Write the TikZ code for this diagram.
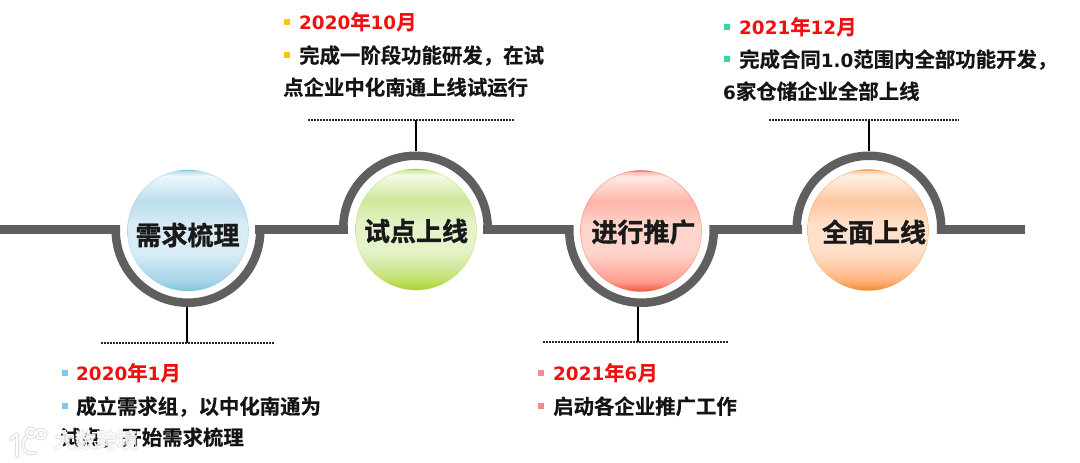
\documentclass[tikz,border=0pt]{standalone}
\usepackage{fontspec}
\setmainfont{Noto Sans CJK SC}
\newfontfamily\cjkheavy[FakeBold=1.2]{Noto Sans CJK SC Bold}
\newfontfamily\cjkbody[FakeBold=0.5]{Noto Sans CJK SC Bold}
\newfontfamily\cjkhalo[FakeBold=5]{Noto Sans CJK SC Bold}
\newfontfamily\cjkmark[FakeBold=1.5]{Noto Sans CJK SC Bold}
\newfontfamily\dgfont[Scale=0.9]{DejaVu Sans Bold}
\newcommand{\dg}[1]{{\dgfont #1}}
\definecolor{bandgray}{HTML}{5F5F5F}
\definecolor{datered}{HTML}{F01010}
\definecolor{bulblue}{HTML}{7FC6F2}
\definecolor{bulyellow}{HTML}{FFC400}
\definecolor{bulpink}{HTML}{EC8E8E}
\definecolor{bulgreen}{HTML}{2FD8A4}
\newcommand{\ballshade}[6]{%
  \definecolor{#1deep}{HTML}{#2}\definecolor{#1mid}{HTML}{#3}\definecolor{#1pale}{HTML}{#4}\definecolor{#1light}{HTML}{#5}\definecolor{#1rim}{HTML}{#6}%
  \pgfdeclareverticalshading{#1ball}{100bp}{%
    color(0bp)=(#1rim);color(25bp)=(#1rim);color(29bp)=(#1deep);color(34bp)=(#1mid);color(41bp)=(#1pale);color(52bp)=(#1pale);
    color(62bp)=(#1mid);color(72.5bp)=(#1light);color(74.6bp)=(#1mid);color(75bp)=(#1rim);color(100bp)=(#1rim)}}
\ballshade{bl}{A6D5E9}{BCDDEC}{D8ECF5}{EDF7FB}{7FC3E0}
\ballshade{gr}{C2E066}{CFE89A}{E5F3C8}{F4FAE6}{A6D22E}
\ballshade{re}{FF9C8C}{FFB4A8}{FFD4CC}{FFEAE6}{F0583C}
\ballshade{or}{FFB07C}{FFC8A2}{FFE0CA}{FFF1E6}{F68A2C}
\tikzset{
  x=1pt,y=-1pt,
  band/.style={fill=bandgray,draw=none},
  stem/.style={draw=black,line width=1.8pt},
  dots/.style={draw=black!85,line width=1.5pt,dash pattern=on 1.5pt off 1.5pt},
  datetext/.style={anchor=base west,inner sep=0pt,text=datered,font=\fontsize{20.4}{24}\cjkbody},
  bodytext/.style={anchor=base west,inner sep=0pt,text=black!92,font=\fontsize{20.4}{24}\cjkbody},
  bullet/.style={fill=#1,inner sep=0pt,minimum size=6pt,shape=rectangle},
  ball/.style={circle,inner sep=0pt,minimum size=121pt,shading=#1ball,draw=#1rim,draw opacity=.45,line width=.6pt},
  balltext/.style={inner sep=0pt,text=black!90,font=\fontsize{26}{30}\cjkheavy},
  wmhalo/.style={inner sep=0pt,text=black!45,opacity=.32,font=\fontsize{21}{24}\cjkhalo},
  wmtext/.style={inner sep=0pt,text=white,opacity=.85,font=\fontsize{21}{24}\cjkmark},
  wmline/.style={line cap=round,line join=round,fill=none},
}
\newcommand{\arcdown}[2]{% centre x, centre y: ring open at the top
  \fill[band] (#1,#2) ++(-4.1:76.5) arc[start angle=-4.1,end angle=184.1,radius=76.5]
     -- ([shift={(#1,#2)}]184.6:68) arc[start angle=184.6,end angle=-4.6,radius=68] -- cycle;}
\newcommand{\arcup}[2]{% centre x, centre y: ring open at the bottom
  \fill[band] (#1,#2) ++(175.5:76.5) arc[start angle=175.5,end angle=364.5,radius=76.5]
     -- ([shift={(#1,#2)}]365:68) arc[start angle=365,end angle=175,radius=68] -- cycle;}
\begin{document}
\begin{tikzpicture}
\useasboundingbox (0,0) rectangle (1080,463);
% band
\fill[band] (0,225) rectangle (120,234);
\fill[band] (255,225) rectangle (348,234);
\fill[band] (483,225) rectangle (573,234);
\fill[band] (710,225) rectangle (802,234);
\fill[band] (937,225) rectangle (1025,234);
\arcdown{188}{230.5}
\arcup{415.5}{228}
\arcdown{641.5}{230.5}
\arcup{869}{228}
% balls
\node[ball=bl] (b1) at (188,230.5) {};
\node[ball=gr] (b2) at (416,229.5) {};
\node[ball=re] (b3) at (641,231) {};
\node[ball=or] (b4) at (868,230) {};
\node[balltext] (l1) at (187.5,235) {需求梳理};
\node[balltext] (l2) at (416,231) {试点上线};
\node[balltext] (l3) at (643.5,232) {进行推广};
\node[balltext] (l4) at (874,232) {全面上线};
% stems and dotted rules
\coordinate (r1) at (187,307); \coordinate (d1) at (187,343);
\coordinate (d1a) at (101,343); \coordinate (d1b) at (274,343);
\coordinate (r2) at (416,151); \coordinate (d2) at (416,120);
\coordinate (d2a) at (308,120); \coordinate (d2b) at (515,120);
\coordinate (r3) at (638,307); \coordinate (d3) at (638,342);
\coordinate (d3a) at (543,342); \coordinate (d3b) at (729,342);
\coordinate (r4) at (869,151); \coordinate (d4) at (869,120);
\coordinate (d4a) at (769,120); \coordinate (d4b) at (959,120);
\draw[stem] (r1) -- (d1); \draw[dots] (d1a) -- (d1b);
\draw[stem] (r2) -- (d2); \draw[dots] (d2a) -- (d2b);
\draw[stem] (r3) -- (d3); \draw[dots] (d3a) -- (d3b);
\draw[stem] (r4) -- (d4); \draw[dots] (d4a) -- (d4b);
% text block 1
\node[bullet=bulblue] (s1a) at (64.5,373) {};
\node[datetext] (t1a) at (76,380.5) {\dg{2020}年\dg{1}月};
\node[bullet=bulblue] (s1b) at (64.5,406) {};
\node[bodytext] (t1b) at (76,414) {成立需求组，以中化南通为};
\node[bodytext] (t1c) at (60,445) {试点，开始需求梳理};
% text block 2
\node[bullet=bulyellow] (s2a) at (287,22) {};
\node[datetext] (t2a) at (299,29.5) {\dg{2020}年\dg{10}月};
\node[bullet=bulyellow] (s2b) at (287,55) {};
\node[bodytext] (t2b) at (299,63) {完成一阶段功能研发，在试};
\node[bodytext] (t2c) at (283,95) {点企业中化南通上线试运行};
% text block 3
\node[bullet=bulpink] (s3a) at (541,373) {};
\node[datetext] (t3a) at (553,380.5) {\dg{2021}年\dg{6}月};
\node[bullet=bulpink] (s3b) at (541,406) {};
\node[bodytext] (t3b) at (553,414) {启动各企业推广工作};
% text block 4
\node[bullet=bulgreen] (s4a) at (727,27) {};
\node[datetext] (t4a) at (739,34.5) {\dg{2021}年\dg{12}月};
\node[bullet=bulgreen] (s4b) at (727,59) {};
\node[bodytext] (t4b) at (739,67) {完成合同\dg{1.0}范围内全部功能开发，};
\node[bodytext] (t4c) at (723,99) {\dg{6}家仓储企业全部上线};
% watermark
\node[wmhalo] (wh) at (96,440) {大数跨境};
\node[wmtext] (wm) at (96,440) {大数跨境};
\foreach \w/\c/\o in {4/black!35/.35,1.8/white/1}{
  \draw[wmline,line width=\w pt,draw=\c,draw opacity=\o] (11,439) -- (17,434) -- (17,456);
  \draw[wmline,line width=\w pt,draw=\c,draw opacity=\o] (27,436) .. controls (20,442) and (22,456) .. (35,453);
  \draw[wmline,line width=\w pt,draw=\c,draw opacity=\o] (31,433) circle (4.5);
  \draw[wmline,line width=\w pt,draw=\c,draw opacity=\o] (41,434) circle (4.5);
}
\end{tikzpicture}
\end{document}
